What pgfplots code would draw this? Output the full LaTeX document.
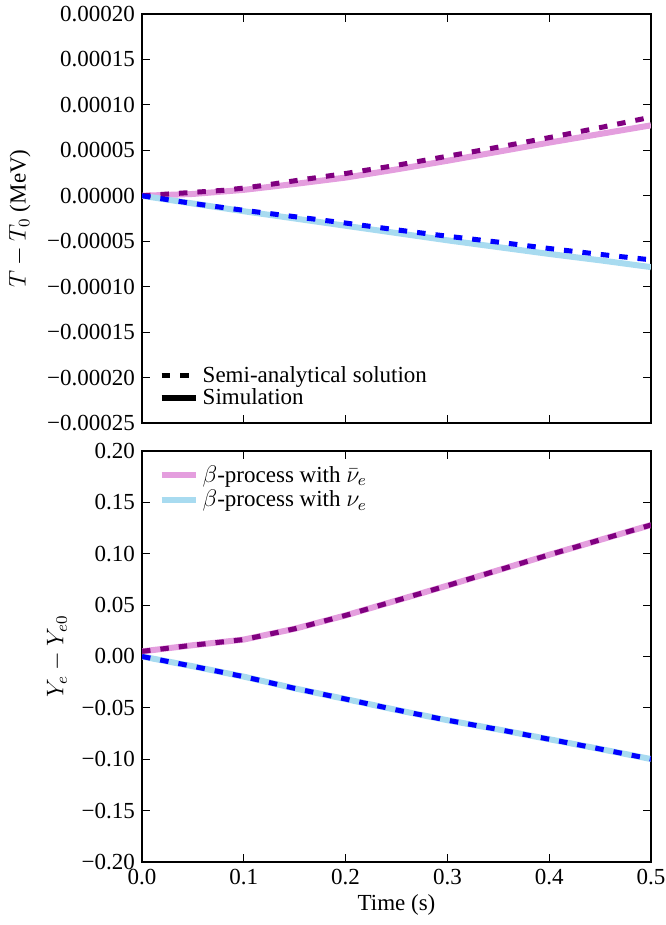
\documentclass[border=0pt]{standalone}
\usepackage{fontspec}
\setmainfont{Liberation Serif}
\usepackage{pgfplots}
\pgfplotsset{compat=1.18}
\definecolor{simpink}{RGB}{228,158,222}
\definecolor{simblue}{RGB}{168,219,240}
\definecolor{mplpurple}{RGB}{128,0,128}
\definecolor{mplblue}{RGB}{0,0,255}
\begin{document}
\begin{tikzpicture}
\useasboundingbox (0,0) rectangle (332.5pt,-462.5pt);
\pgfplotsset{
  every axis/.append style={
    font=\fontsize{11.5}{13.8}\selectfont,
    scale only axis, width=254.5pt,
    xmin=0, xmax=0.5,
    xtick={0,0.1,0.2,0.3,0.4,0.5},
    tick align=inside, xtick pos=both, ytick pos=both,
    major tick length=4pt,
    axis line style={line width=0.6pt},
    every tick/.style={black, line width=0.5pt},
    scaled y ticks=false, scaled x ticks=false,
    legend cell align=left,
    legend style={draw=none, fill=none, font=\fontsize{11.5}{13}\selectfont},
  },
  sim/.style={line width=3pt},
  ana/.style={line width=2.5pt, dash pattern=on 4.25pt off 5pt},
}
\begin{axis}[
  at={(71pt,-7pt)}, anchor=north west,
  height=204.5pt,
  ymin=-0.00025, ymax=0.0002,
  ytick={-0.00025,-0.0002,-0.00015,-0.0001,-0.00005,0,0.00005,0.0001,0.00015,0.0002},
  yticklabels={−0.00025,−0.00020,−0.00015,−0.00010,−0.00005,0.00000,0.00005,0.00010,0.00015,0.00020},
  xticklabels={},
  ylabel={$T-T_0$ (MeV)},
  ylabel style={at={(axis description cs:-0.2397,0.5)}, anchor=center},
  legend style={at={(0.02,0.018)}, anchor=south west, row sep=-2.5pt},
]
\addlegendimage{black, ana}
\addlegendentry{Semi-analytical solution}
\addlegendimage{black, sim}
\addlegendentry{Simulation}
% simulation, anti-nu
\addplot[simpink, sim] coordinates {
(0,0) (0.05,0.000002) (0.1,0.0000065) (0.15,0.000013) (0.2,0.00002) (0.25,0.000029)
(0.3,0.0000385) (0.35,0.0000485) (0.4,0.0000585) (0.45,0.000068) (0.5,0.0000775)};
% simulation, nu
\addplot[simblue, sim] coordinates {
(0,0) (0.05,-0.0000085) (0.1,-0.000017) (0.15,-0.000025) (0.2,-0.000033) (0.25,-0.000041)
(0.3,-0.000049) (0.35,-0.0000565) (0.4,-0.000064) (0.45,-0.000071) (0.5,-0.0000785)};
% semi-analytical, anti-nu
\addplot[mplpurple, ana] coordinates {
(0,0) (0.04,0.000003) (0.08,0.000006) (0.1,0.0000085) (0.12,0.0000115) (0.15,0.0000165)
(0.2,0.0000245) (0.25,0.0000335) (0.3,0.0000435) (0.35,0.0000535) (0.4,0.000064) (0.45,0.000075) (0.5,0.0000865)};
% semi-analytical, nu
\addplot[mplblue, ana] coordinates {
(0,0) (0.05,-0.0000085) (0.1,-0.000016) (0.15,-0.000023) (0.2,-0.00003) (0.25,-0.0000375)
(0.3,-0.0000445) (0.35,-0.000051) (0.4,-0.000058) (0.45,-0.0000645) (0.5,-0.0000705)};
\end{axis}

\begin{axis}[
  at={(71pt,-225.5pt)}, anchor=north west,
  height=205.5pt,
  ymin=-0.2, ymax=0.2,
  ytick={-0.2,-0.15,-0.1,-0.05,0,0.05,0.1,0.15,0.2},
  yticklabels={−0.20,−0.15,−0.10,−0.05,0.00,0.05,0.10,0.15,0.20},
  xticklabels={0.0,0.1,0.2,0.3,0.4,0.5},
  xlabel={Time (s)},
  xlabel style={at={(axis description cs:0.5,0)}, yshift=-21.5pt, anchor=center},
  ylabel={$Y_e-Y_{e0}$},
  ylabel style={at={(axis description cs:-0.167,0.5)}, anchor=center},
  legend style={at={(0.02,0.985)}, anchor=north west, row sep=-1.5pt},
]
\addplot[simpink, sim] coordinates {
(0,0.005) (0.05,0.011) (0.1,0.0165) (0.15,0.027) (0.2,0.040) (0.25,0.0545)
(0.3,0.069) (0.35,0.084) (0.4,0.099) (0.45,0.1135) (0.5,0.128)};
\addlegendentry{$\beta$-process with $\bar{\nu}_e$}
\addplot[simblue, sim] coordinates {
(0,0) (0.05,-0.0095) (0.1,-0.0196) (0.15,-0.031) (0.2,-0.0414) (0.25,-0.052)
(0.3,-0.062) (0.35,-0.071) (0.4,-0.0805) (0.45,-0.090) (0.5,-0.0998)};
\addlegendentry{$\beta$-process with $\nu_e$}
\addplot[mplpurple, ana, forget plot] coordinates {
(0,0.005) (0.05,0.011) (0.1,0.0165) (0.15,0.027) (0.2,0.040) (0.25,0.0545)
(0.3,0.069) (0.35,0.084) (0.4,0.099) (0.45,0.1135) (0.5,0.128)};
\addplot[mplblue, ana, forget plot] coordinates {
(0,0) (0.05,-0.0095) (0.1,-0.0196) (0.15,-0.031) (0.2,-0.0414) (0.25,-0.052)
(0.3,-0.062) (0.35,-0.071) (0.4,-0.0805) (0.45,-0.090) (0.5,-0.0998)};
\end{axis}
\end{tikzpicture}
\end{document}
